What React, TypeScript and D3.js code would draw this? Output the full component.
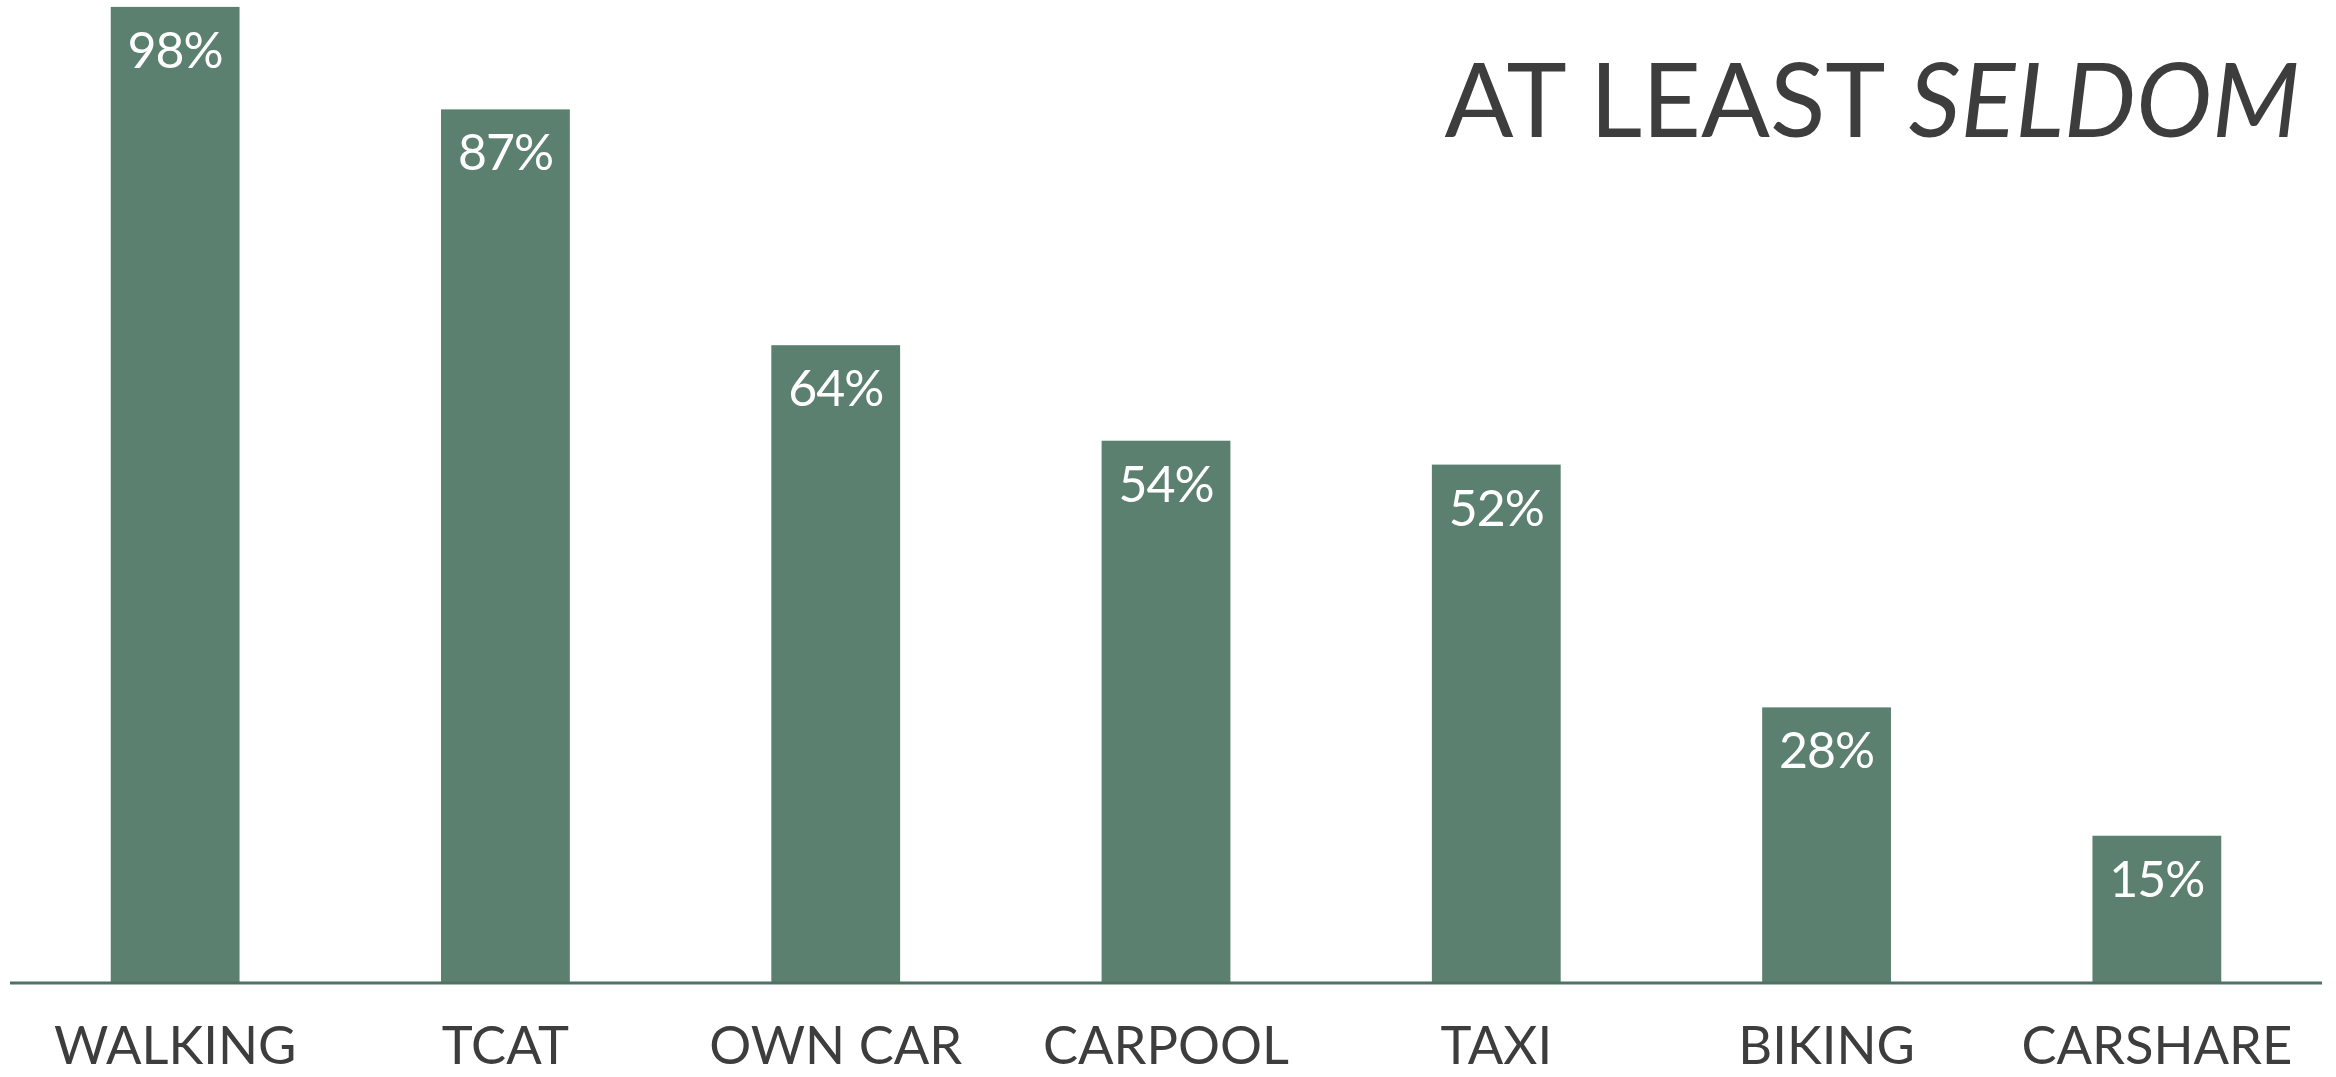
import { useEffect } from "react";
import * as d3 from "d3";

const categories = ["WALKING", "TCAT", "OWN CAR", "CARPOOL", "TAXI", "BIKING", "CARSHARE"];
// printed percentages
const shares = [98, 87, 64, 54, 52, 28, 15];
// bar lengths as drawn in the picture (unrounded)
const barValues = [98, 87.7, 64, 54.4, 52, 27.6, 14.7];
const titleParts = ["AT LEAST ", "SELDOM"];

const W = 2336;
const H = 1077;
const BASE = 982;

const FONT = "Lato, 'Open Sans', sans-serif";
const BAR = "#5b8070";
const LINE = "#4f7263";
const INK = "#3d3d3d";

export default function App() {
  useEffect(() => {
    document.body.style.margin = "0";
  }, []);

  const x = d3
    .scaleBand<string>()
    .domain(categories)
    .range([10, 2322])
    .paddingInner(0.61)
    .paddingOuter(0.305);

  const y = d3.scaleLinear().domain([0, 100]).range([BASE, BASE - 995]);

  const rows = categories.map((c, i) => ({ cat: c, label: shares[i], value: barValues[i] }));

  return (
    <svg width={W} height={H} style={{ display: "block", background: "#fff" }} fontFamily={FONT}>
      {rows.map((d) => (
        <g key={d.cat}>
          <rect
            x={x(d.cat)}
            y={y(d.value)}
            width={x.bandwidth()}
            height={BASE - y(d.value)}
            fill={BAR}
          />
          <text
            x={(x(d.cat) ?? 0) + x.bandwidth() / 2}
            y={y(d.value) + 61}
            textAnchor="middle"
            fill="#fff"
            fontSize={50}
            letterSpacing={-1}
          >
            {d.label}%
          </text>
          <text
            x={(x(d.cat) ?? 0) + x.bandwidth() / 2}
            y={1064}
            textAnchor="middle"
            fill={INK}
            fontSize={52.5}
          >
            {d.cat}
          </text>
        </g>
      ))}
      <line x1={x.range()[0]} x2={x.range()[1]} y1={BASE + 1} y2={BASE + 1} stroke={LINE} strokeWidth={3} />
      <text x={2300} y={137} textAnchor="end" fill={INK} fontSize={102}>
        <tspan>{titleParts[0]}</tspan>
        <tspan fontStyle="italic">{titleParts[1]}</tspan>
      </text>
    </svg>
  );
}
